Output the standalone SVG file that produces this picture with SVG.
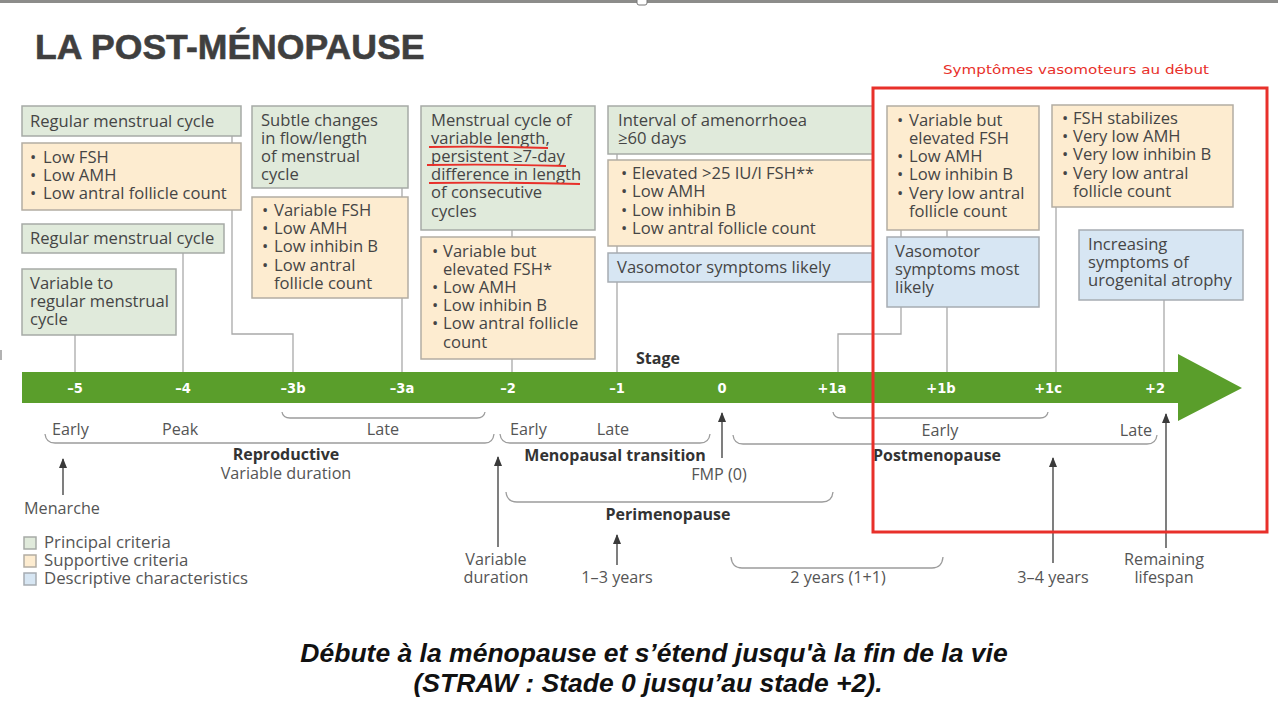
<svg xmlns="http://www.w3.org/2000/svg" width="1278" height="712" viewBox="0 0 1278 712">
<style>
.bg{fill:#ffffff}
.bg-g{fill:#e0eadb;stroke:#a6aaa6;stroke-width:1.5}
.bg-o{fill:#fdecd0;stroke:#b3ada3;stroke-width:1.5}
.bg-b{fill:#d7e6f3;stroke:#a6acb2;stroke-width:1.5}
.t{font-family:"Open Sans","Liberation Sans",sans-serif;font-size:16.6px;fill:#454545}
.conn{stroke:#a9a9a9;stroke-width:1.3;fill:none}
.br{stroke:#9c9c9c;stroke-width:1.3;fill:none}
.arr{stroke:#3a3a3a;stroke-width:1.3;fill:none;marker-end:url(#ah)}
.lbl{font-family:"Open Sans","Liberation Sans",sans-serif;font-size:16.2px;fill:#555}
.leg{font-size:16.8px}
.b{font-weight:bold;fill:#333;font-size:16px}
.mid{text-anchor:middle}
.stg{font-family:"DejaVu Sans Condensed","DejaVu Sans",sans-serif;font-stretch:condensed;font-weight:bold;font-size:14.5px;fill:#ffffff;text-anchor:middle}
.red{stroke:#e8302a;fill:none}
</style>
<defs>
<marker id="ah" markerUnits="userSpaceOnUse" markerWidth="10" markerHeight="10" viewBox="0 0 10 10" refX="9" refY="5" orient="auto">
<path d="M0,1 L10,5 L0,9 Z" fill="#3a3a3a"/>
</marker>
</defs>
<rect class="bg" x="0" y="0" width="1278" height="712"/>
<rect x="0" y="0" width="1278" height="3" fill="#8c8c8a"/>
<rect x="637" y="-3" width="10" height="8" rx="2" fill="#ffffff" stroke="#777" stroke-width="1"/>
<line x1="1" y1="350" x2="1" y2="360" stroke="#999" stroke-width="1.5"/>

<text x="35" y="59" font-family="'Liberation Sans',Arial,sans-serif" font-weight="bold" font-size="35.6" fill="#3f3f3f" stroke="#3f3f3f" stroke-width="0.6">LA POST-MÉNOPAUSE</text>

<text x="1076" y="74" class="mid" font-family="'DejaVu Sans',sans-serif" font-size="13" fill="#e8302a" textLength="266" lengthAdjust="spacingAndGlyphs">Symptômes vasomoteurs au début</text>

<g id="connectors">
<path class="conn" d="M232,136 V143 M232,210 V334 H293 V372"/>
<path class="conn" d="M183,253 V372"/>
<path class="conn" d="M75,335 V372"/>
<path class="conn" d="M402,188 V197 M402,298 V372"/>
<path class="conn" d="M512,230 V237 M512,359 V372"/>
<path class="conn" d="M617,154 V160 M617,246 V253 M617,282 V372"/>
<path class="conn" d="M901,230 V237 M947,230 V237 M901,307 V334 H838 V372 M947,307 V372"/>
<path class="conn" d="M1056,207 V372"/>
<path class="conn" d="M1164,300 V372"/>
</g>

<g id="n1"><rect class="bg-g" x="22" y="106" width="219" height="30"/>
<text class="t" x="30" y="127">Regular menstrual cycle</text></g>
<g id="n2"><rect class="bg-o" x="22" y="143" width="219" height="67"/>
<text class="t"><tspan x="30" y="163">•</tspan><tspan x="43">Low FSH</tspan><tspan x="30" y="181">•</tspan><tspan x="43">Low AMH</tspan><tspan x="30" y="199">•</tspan><tspan x="43">Low antral follicle count</tspan></text></g>
<g id="n3"><rect class="bg-g" x="22" y="224" width="202" height="29"/>
<text class="t" x="30" y="244">Regular menstrual cycle</text></g>
<g id="n4"><rect class="bg-g" x="22" y="269" width="154" height="66"/>
<text class="t"><tspan x="30" y="289">Variable to</tspan><tspan x="30" y="307">regular menstrual</tspan><tspan x="30" y="325">cycle</tspan></text></g>
<g id="n5"><rect class="bg-g" x="252" y="106" width="156" height="82"/>
<text class="t"><tspan x="261" y="126">Subtle changes</tspan><tspan x="261" y="144">in flow/length</tspan><tspan x="261" y="162">of menstrual</tspan><tspan x="261" y="180">cycle</tspan></text></g>
<g id="n6"><rect class="bg-o" x="252" y="197" width="156" height="101"/>
<text class="t"><tspan x="262" y="216">•</tspan><tspan x="274">Variable FSH</tspan><tspan x="262" y="234">•</tspan><tspan x="274">Low AMH</tspan><tspan x="262" y="252">•</tspan><tspan x="274">Low inhibin B</tspan><tspan x="262" y="271">•</tspan><tspan x="274">Low antral</tspan><tspan x="274" y="289">follicle count</tspan></text></g>
<g id="n7"><rect class="bg-g" x="421" y="106" width="174" height="124"/>
<text class="t"><tspan x="431" y="126">Menstrual cycle of</tspan><tspan x="431" y="144">variable length,</tspan><tspan x="431" y="162">persistent ≥7-day</tspan><tspan x="431" y="180">difference in length</tspan><tspan x="431" y="198">of consecutive</tspan><tspan x="431" y="217">cycles</tspan></text>
<path class="red" stroke-width="1.8" d="M429,147 Q490,146 548,148 M427,165 Q500,164 566,166 M429,183 Q505,182 580,184"/></g>
<g id="n8"><rect class="bg-o" x="421" y="237" width="174" height="122"/>
<text class="t"><tspan x="432" y="257">•</tspan><tspan x="443">Variable but</tspan><tspan x="443" y="275">elevated  FSH*</tspan><tspan x="432" y="293">•</tspan><tspan x="443">Low AMH</tspan><tspan x="432" y="311">•</tspan><tspan x="443">Low inhibin B</tspan><tspan x="432" y="329">•</tspan><tspan x="443">Low antral follicle</tspan><tspan x="443" y="348">count</tspan></text></g>
<g id="n9"><rect class="bg-g" x="608" y="106" width="265" height="48"/>
<text class="t"><tspan x="618" y="126">Interval of amenorrhoea</tspan><tspan x="618" y="144">≥60 days</tspan></text></g>
<g id="n10"><rect class="bg-o" x="608" y="160" width="265" height="86"/>
<text class="t"><tspan x="621" y="179">•</tspan><tspan x="632">Elevated &gt;25 IU/l FSH**</tspan><tspan x="621" y="197">•</tspan><tspan x="632">Low AMH</tspan><tspan x="621" y="216">•</tspan><tspan x="632">Low inhibin B</tspan><tspan x="621" y="234">•</tspan><tspan x="632">Low antral follicle count</tspan></text></g>
<g id="n11"><rect class="bg-b" x="608" y="253" width="264" height="29"/>
<text class="t" x="617" y="273">Vasomotor symptoms likely</text></g>
<g id="n12"><rect class="bg-o" x="887" y="106" width="152" height="124"/>
<text class="t"><tspan x="897" y="126">•</tspan><tspan x="909">Variable but</tspan><tspan x="909" y="144">elevated FSH</tspan><tspan x="897" y="162">•</tspan><tspan x="909">Low AMH</tspan><tspan x="897" y="180">•</tspan><tspan x="909">Low inhibin B</tspan><tspan x="897" y="199">•</tspan><tspan x="909">Very low antral</tspan><tspan x="909" y="217">follicle count</tspan></text></g>
<g id="n13"><rect class="bg-b" x="887" y="237" width="152" height="70"/>
<text class="t"><tspan x="895" y="257">Vasomotor</tspan><tspan x="895" y="275">symptoms most</tspan><tspan x="895" y="293">likely</tspan></text></g>
<g id="n14"><rect class="bg-o" x="1052" y="105" width="181" height="102"/>
<text class="t"><tspan x="1062" y="124">•</tspan><tspan x="1073">FSH stabilizes</tspan><tspan x="1062" y="142">•</tspan><tspan x="1073">Very low AMH</tspan><tspan x="1062" y="160">•</tspan><tspan x="1073">Very low inhibin B</tspan><tspan x="1062" y="179">•</tspan><tspan x="1073">Very low antral</tspan><tspan x="1073" y="197">follicle count</tspan></text></g>
<g id="n15"><rect class="bg-b" x="1079" y="230" width="164" height="70"/>
<text class="t"><tspan x="1088" y="250">Increasing</tspan><tspan x="1088" y="268">symptoms of</tspan><tspan x="1088" y="286">urogenital atrophy</tspan></text></g>

<g id="timeline">
<path d="M22,372 H1178 V354 L1242,388 L1178,421 V403 H22 Z" fill="#5a9e2b"/>
<text class="lbl b" x="636" y="364">Stage</text>
<text class="stg" x="75" y="393">–5</text>
<text class="stg" x="183" y="393">–4</text>
<text class="stg" x="293" y="393">–3b</text>
<text class="stg" x="402" y="393">–3a</text>
<text class="stg" x="508" y="393">–2</text>
<text class="stg" x="617" y="393">–1</text>
<text class="stg" x="722" y="393">0</text>
<text class="stg" x="832" y="393">+1a</text>
<text class="stg" x="941" y="393">+1b</text>
<text class="stg" x="1048" y="393">+1c</text>
<text class="stg" x="1155" y="393">+2</text>
</g>

<g id="brackets">
<path class="br" d="M282,412 Q283,418 290,418 H477 Q484,418 485,412"/>
<path class="br" d="M45,434 Q46,443 55,443 H485 Q493,443 494,434"/>
<path class="br" d="M500,434 Q501,443 510,443 H700 Q709,443 710,434"/>
<path class="br" d="M733,435 Q734,444 743,444 H1147 Q1156,444 1157,435"/>
<path class="br" d="M833,412 Q834,418 841,418 H1040 Q1047,418 1048,412"/>
<path class="br" d="M506,492 Q507,502 517,502 H822 Q832,502 833,492"/>
<path class="br" d="M731,557 Q732,568 742,568 H932 Q942,568 943,557"/>
</g>

<g id="arrows">
<line class="arr" x1="63" y1="495" x2="63" y2="459"/>
<line class="arr" x1="498" y1="547" x2="498" y2="457"/>
<line class="arr" x1="722" y1="458" x2="722" y2="413"/>
<line class="arr" x1="617" y1="565" x2="617" y2="535"/>
<line class="arr" x1="1053" y1="563" x2="1053" y2="458"/>
<line class="arr" x1="1166" y1="548" x2="1166" y2="414"/>
</g>

<g id="labels">
<text class="lbl" x="52" y="435">Early</text>
<text class="lbl" x="162" y="435">Peak</text>
<text class="lbl mid" x="383" y="435">Late</text>
<text class="lbl b mid" x="286" y="460">Reproductive</text>
<text class="lbl mid" x="286" y="479">Variable duration</text>
<text class="lbl" x="24" y="514">Menarche</text>
<text class="lbl" x="510" y="435">Early</text>
<text class="lbl mid" x="613" y="435">Late</text>
<text class="lbl b mid" x="615" y="461">Menopausal transition</text>
<text class="lbl mid" x="719" y="480">FMP (0)</text>
<text class="lbl b mid" x="668" y="520">Perimenopause</text>
<text class="lbl mid" x="496" y="565">Variable</text>
<text class="lbl mid" x="496" y="583">duration</text>
<text class="lbl mid" x="617" y="583">1–3 years</text>
<text class="lbl mid" x="838" y="583">2 years (1+1)</text>
<text class="lbl mid" x="940" y="436">Early</text>
<text class="lbl" x="1152" y="436" text-anchor="end">Late</text>
<text class="lbl b mid" x="937" y="461">Postmenopause</text>
<text class="lbl mid" x="1053" y="583">3–4 years</text>
<text class="lbl mid" x="1164" y="565">Remaining</text>
<text class="lbl mid" x="1164" y="583">lifespan</text>
</g>

<g id="legend">
<rect class="bg-g" x="24" y="537" width="12" height="12" stroke-width="1"/>
<rect class="bg-o" x="24" y="555" width="12" height="12" stroke-width="1"/>
<rect class="bg-b" x="24" y="573" width="12" height="12" stroke-width="1"/>
<text class="lbl leg" x="44" y="548">Principal criteria</text>
<text class="lbl leg" x="44" y="566">Supportive criteria</text>
<text class="lbl leg" x="44" y="584">Descriptive characteristics</text>
</g>

<rect x="873" y="88" width="394" height="444" fill="none" stroke="#e8302a" stroke-width="3"/>

<g id="caption" font-family="'Liberation Sans',Arial,sans-serif" font-weight="bold" font-style="italic" font-size="26.5" fill="#111" text-anchor="middle">
<text x="654" y="662">Débute à la ménopause et s’étend jusqu'à la fin de la vie</text>
<text x="648" y="692">(STRAW : Stade 0 jusqu’au stade +2).</text>
</g>
</svg>
